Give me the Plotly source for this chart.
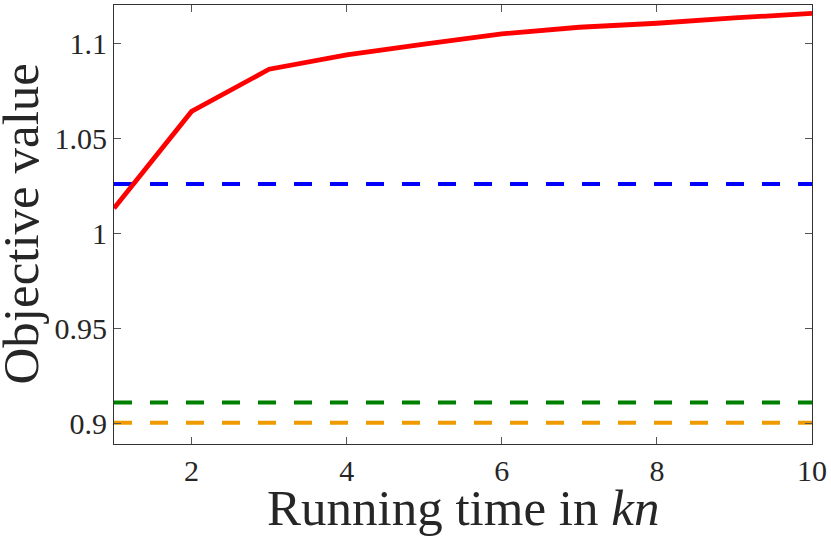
import plotly.graph_objects as go

# running time (in kn)
x_vals = [1, 2, 3, 4, 5, 6, 7, 8, 9, 10]
red_vals = [1.013, 1.064, 1.0862, 1.0938, 1.0994, 1.1048, 1.1083, 1.1104, 1.1132, 1.1156]

# constant baselines
blue_val = 1.0258
green_val = 0.9108
orange_val = 0.9002

y_ticks = [0.9, 0.95, 1.0, 1.05, 1.1]
y_ticktext = ["0.9", "0.95", "1", "1.05", "1.1"]
x_ticks = [2, 4, 6, 8, 10]

font_family = "Liberation Serif, Times New Roman, serif"
text_color = "#262626"

fig = go.Figure()

for val, color in [(blue_val, "#0000ff"), (green_val, "#008000"), (orange_val, "#ee9a00")]:
    fig.add_trace(go.Scatter(
        x=[x_vals[0], x_vals[-1]], y=[val, val], mode="lines",
        line=dict(color=color, width=4, dash="18px,18px"),
        showlegend=False, hoverinfo="skip",
    ))

fig.add_trace(go.Scatter(
    x=x_vals, y=red_vals, mode="lines",
    line=dict(color="#ff0000", width=4.8),
    showlegend=False,
))

axis_common = dict(
    showline=True, linecolor="#333333", linewidth=1.2, mirror="ticks",
    ticks="inside", ticklen=7, tickcolor="#555555",
    showgrid=False, zeroline=False,
    tickfont=dict(family=font_family, size=30, color=text_color),
)

fig.update_xaxes(range=[1, 10], tickvals=x_ticks, **axis_common)
fig.update_yaxes(range=[0.889, 1.12], tickvals=y_ticks, ticktext=y_ticktext, **axis_common)

# axis titles as annotations for exact placement
fig.add_annotation(
    text="Running time in <i>kn</i>", xref="paper", yref="paper",
    x=0.5, y=0, xanchor="center", yanchor="top", yshift=-34,
    showarrow=False, font=dict(family=font_family, size=51, color=text_color),
)
fig.add_annotation(
    text="Objective value", xref="paper", yref="paper",
    x=0, y=0.5, xanchor="right", yanchor="middle", xshift=-64, textangle=-90,
    showarrow=False, font=dict(family=font_family, size=51, color=text_color),
)

fig.update_layout(
    width=831, height=542,
    margin=dict(l=114, r=17, t=4, b=98),
    plot_bgcolor="white", paper_bgcolor="white",
)

fig.write_html(
    "out.html",
    config={"displayModeBar": False},
    post_script="document.body.style.margin='0';",
)
